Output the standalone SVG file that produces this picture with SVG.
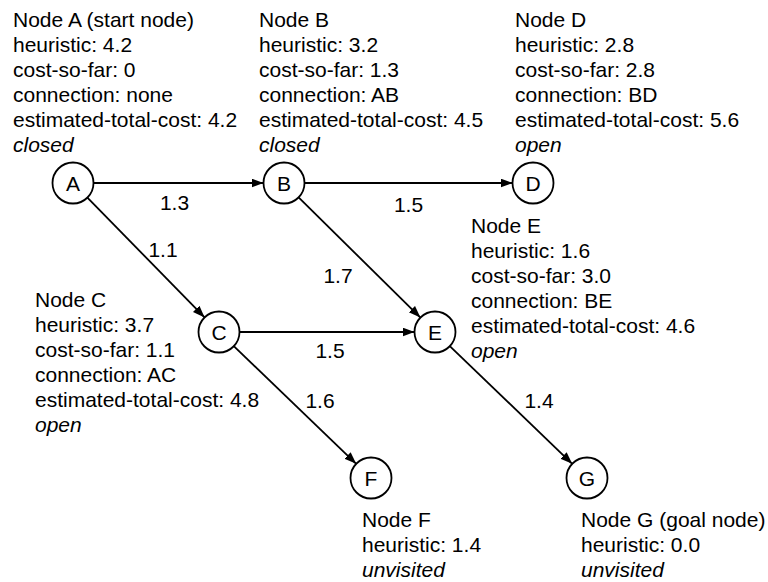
<svg xmlns="http://www.w3.org/2000/svg" width="768" height="582" viewBox="0 0 768 582">
<style>
text{font-family:"Liberation Sans",Arial,Helvetica,sans-serif;font-size:21px;fill:#000}
.i{font-style:italic}
.c{text-anchor:middle}
circle{fill:#fff;stroke:#000;stroke-width:1.8}
line{stroke:#000;stroke-width:1.8}
</style>
<defs>
<marker id="ah" markerUnits="userSpaceOnUse" markerWidth="13" markerHeight="10" refX="12" refY="4.5" orient="auto">
<path d="M0,0 L12,4.5 L0,9 z" fill="#000"/>
</marker>
</defs>
<rect width="768" height="582" fill="#fff"/>
<g id="connectors">
<line x1="93.5" y1="183" x2="263.5" y2="183" marker-end="url(#ah)"/>
<line x1="304.5" y1="183" x2="512.5" y2="183" marker-end="url(#ah)"/>
<line x1="87.4" y1="197.6" x2="204.6" y2="317.4" marker-end="url(#ah)"/>
<line x1="298.6" y1="197.4" x2="420.4" y2="317.6" marker-end="url(#ah)"/>
<line x1="239.5" y1="332" x2="414.5" y2="332" marker-end="url(#ah)"/>
<line x1="233.8" y1="346.2" x2="356.2" y2="463.8" marker-end="url(#ah)"/>
<line x1="449.8" y1="346.2" x2="572.2" y2="463.8" marker-end="url(#ah)"/>
<text class="c" x="174.5" y="210">1.3</text>
<text class="c" x="408.5" y="212">1.5</text>
<text class="c" x="163" y="257">1.1</text>
<text class="c" x="338" y="283">1.7</text>
<text class="c" x="330" y="358">1.5</text>
<text class="c" x="320" y="408">1.6</text>
<text class="c" x="539" y="408">1.4</text>
</g>
<g id="nodeA">
<circle cx="73" cy="183" r="20.5"/>
<text class="c" x="73" y="190.5">A</text>
<text x="13" y="27">Node A (start node)</text>
<text x="13" y="52">heuristic: 4.2</text>
<text x="13" y="77">cost-so-far: 0</text>
<text x="13" y="102">connection: none</text>
<text x="13" y="127">estimated-total-cost: 4.2</text>
<text class="i" x="13" y="152">closed</text>
</g>
<g id="nodeB">
<circle cx="284" cy="183" r="20.5"/>
<text class="c" x="284" y="190.5">B</text>
<text x="259" y="27">Node B</text>
<text x="259" y="52">heuristic: 3.2</text>
<text x="259" y="77">cost-so-far: 1.3</text>
<text x="259" y="102">connection: AB</text>
<text x="259" y="127">estimated-total-cost: 4.5</text>
<text class="i" x="259" y="152">closed</text>
</g>
<g id="nodeD">
<circle cx="533" cy="183" r="20.5"/>
<text class="c" x="533" y="190.5">D</text>
<text x="515" y="27">Node D</text>
<text x="515" y="52">heuristic: 2.8</text>
<text x="515" y="77">cost-so-far: 2.8</text>
<text x="515" y="102">connection: BD</text>
<text x="515" y="127">estimated-total-cost: 5.6</text>
<text class="i" x="515" y="152">open</text>
</g>
<g id="nodeC">
<circle cx="219" cy="332" r="20.5"/>
<text class="c" x="219" y="339.5">C</text>
<text x="35" y="307">Node C</text>
<text x="35" y="332">heuristic: 3.7</text>
<text x="35" y="357">cost-so-far: 1.1</text>
<text x="35" y="382">connection: AC</text>
<text x="35" y="407">estimated-total-cost: 4.8</text>
<text class="i" x="35" y="432">open</text>
</g>
<g id="nodeE">
<circle cx="435" cy="332" r="20.5"/>
<text class="c" x="435" y="339.5">E</text>
<text x="471" y="233">Node E</text>
<text x="471" y="258">heuristic: 1.6</text>
<text x="471" y="283">cost-so-far: 3.0</text>
<text x="471" y="308">connection: BE</text>
<text x="471" y="333">estimated-total-cost: 4.6</text>
<text class="i" x="471" y="358">open</text>
</g>
<g id="nodeF">
<circle cx="371" cy="478" r="20.5"/>
<text class="c" x="371" y="485.5">F</text>
<text x="362" y="527">Node F</text>
<text x="362" y="552">heuristic: 1.4</text>
<text class="i" x="362" y="577">unvisited</text>
</g>
<g id="nodeG">
<circle cx="587" cy="478" r="20.5"/>
<text class="c" x="587" y="485.5">G</text>
<text x="581" y="527">Node G (goal node)</text>
<text x="581" y="552">heuristic: 0.0</text>
<text class="i" x="581" y="577">unvisited</text>
</g>
</svg>
